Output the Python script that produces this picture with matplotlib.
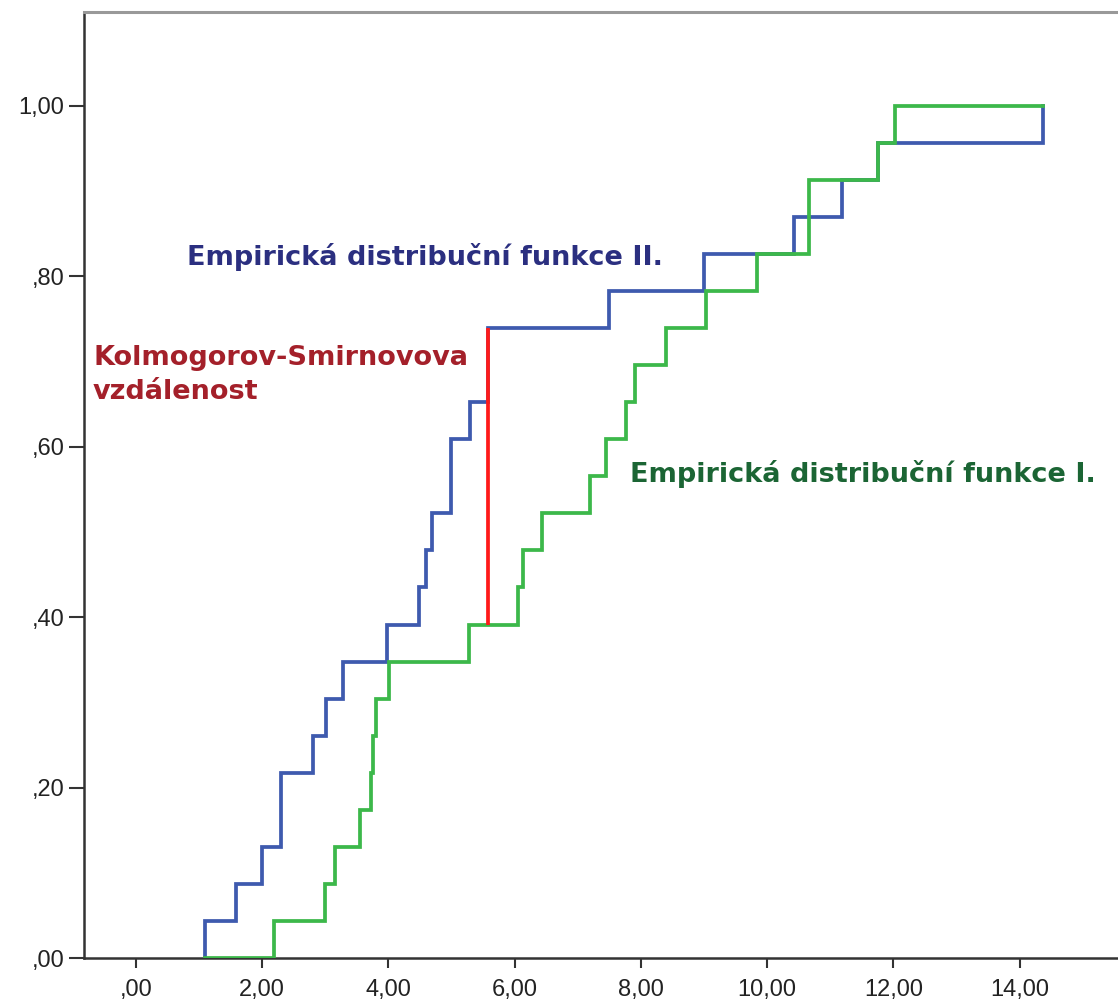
import numpy as np
import matplotlib
matplotlib.use("Agg")
import matplotlib.pyplot as plt

# Sample values (read from the step positions)
sample_II = [1.09, 1.58, 2.00, 2.30, 2.30, 2.80, 3.01, 3.28, 3.98, 4.48, 4.60, 4.69,
             4.99, 4.99, 5.29, 5.58, 5.58, 7.50, 9.00, 10.43, 11.19, 11.76, 14.37]
sample_I = [2.19, 3.00, 3.15, 3.55, 3.72, 3.76, 3.80, 4.01, 5.28, 6.06, 6.13, 6.43,
            7.20, 7.45, 7.77, 7.91, 8.40, 9.03, 9.84, 10.66, 10.66, 11.76, 12.03]

x_ticks = [0, 2, 4, 6, 8, 10, 12, 14]
x_ticklabels = [",00", "2,00", "4,00", "6,00", "8,00", "10,00", "12,00", "14,00"]
y_ticks = [0, 0.2, 0.4, 0.6, 0.8, 1.0]
y_ticklabels = [",00", ",20", ",40", ",60", ",80", "1,00"]

label_II = "Empirická distribuční funkce II."
label_I = "Empirická distribuční funkce I."
label_ks = ["Kolmogorov-Smirnovova", "vzdálenost"]

W, H = 1118, 1006
fig = plt.figure(figsize=(W / 100, H / 100), dpi=100)
ax = fig.add_axes([84 / W, 1 - 958 / H, 1 - 84 / W, (958 - 12) / H])

xmin = min(min(sample_I), min(sample_II))
xmax = max(max(sample_I), max(sample_II))


def ecdf_steps(vals):
    v = np.sort(np.asarray(vals, dtype=float))
    n = len(v)
    xs = np.concatenate([[xmin], v, [xmax]])
    ys = np.concatenate([[0.0], np.arange(1, n + 1) / n, [1.0]])
    return xs, ys


def ecdf(vals, x):
    v = np.sort(np.asarray(vals, dtype=float))
    return np.searchsorted(v, x, side="right") / len(v)


blue = "#3e5aae"
green = "#3cb84a"
xs2, ys2 = ecdf_steps(sample_II)
xs1, ys1 = ecdf_steps(sample_I)
ax.step(xs2, ys2, where="post", color=blue, lw=2.7, solid_joinstyle="miter", zorder=3)
ax.step(xs1, ys1, where="post", color=green, lw=2.7, solid_joinstyle="miter", zorder=4)

# Kolmogorov-Smirnov distance
allx = np.unique(np.concatenate([sample_I, sample_II]))
diff = np.abs(ecdf(sample_II, allx) - ecdf(sample_I, allx))
k = np.argmax(diff)
xk = allx[k]
ax.vlines(xk, ecdf(sample_I, xk), ecdf(sample_II, xk), color="#ff1a1a", lw=2.7, zorder=5)

ax.set_xlim(-0.824, 15.56)
ax.set_ylim(0, 1.110)
ax.set_xticks(x_ticks)
ax.set_xticklabels(x_ticklabels)
ax.set_yticks(y_ticks)
ax.set_yticklabels(y_ticklabels)

tick_font = dict(family="Liberation Sans", size=17, color="#222222")
for lab in ax.get_xticklabels() + ax.get_yticklabels():
    lab.set_fontfamily(tick_font["family"])
    lab.set_fontsize(tick_font["size"])
    lab.set_color(tick_font["color"])
ax.tick_params(axis="y", length=11, width=1.5, pad=3, color="#333333")
ax.tick_params(axis="x", length=7, width=1.5, pad=8, color="#333333")

ax.spines["right"].set_visible(False)
ax.spines["left"].set_color("#333333")
ax.spines["left"].set_linewidth(1.8)
ax.spines["bottom"].set_color("#333333")
ax.spines["bottom"].set_linewidth(1.8)
ax.spines["top"].set_color("#999999")
ax.spines["top"].set_linewidth(2.2)

tf = dict(family="DejaVu Sans", weight="bold", size=19.5, ha="left", va="center")
ax.text(0.81, 0.822, label_II, color="#2b2f80", **tf)
ax.text(7.83, 0.568, label_I, color="#1b6534", **tf)
ax.text(-0.68, 0.704, label_ks[0], color="#a4202a", **tf)
ax.text(-0.68, 0.664, label_ks[1], color="#a4202a", **tf)

fig.savefig("out.png", dpi=100)
